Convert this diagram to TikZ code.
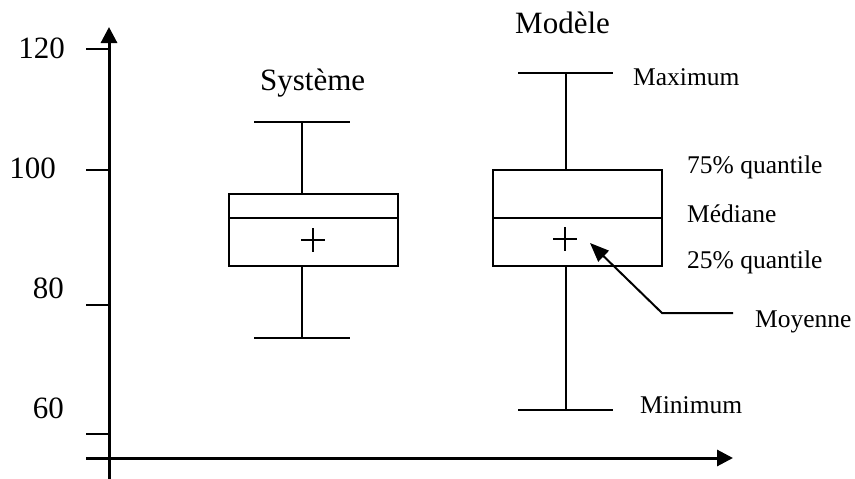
\documentclass[tikz,border=0pt]{standalone}
\usepackage{fontspec}
\setmainfont{Liberation Serif}
\usetikzlibrary{arrows.meta}
\begin{document}
\begin{tikzpicture}[x=1pt,y=-1pt,
  axis/.style={line width=3pt},
  tick/.style={line width=2.4pt},
  boxline/.style={line width=2pt},
  big/.style={font=\fontsize{31}{31}\selectfont, inner sep=0pt, anchor=base west},
  small/.style={font=\fontsize{25.5}{25.5}\selectfont, inner sep=0pt, anchor=base west},
  ylab/.style={font=\fontsize{31}{31}\selectfont, inner sep=0pt, anchor=base east}]
\useasboundingbox (0,0) rectangle (855,479);

% axes
\coordinate (yb) at (109,479);
\coordinate (yt) at (109,27);
\coordinate (xl) at (86,458);
\coordinate (xr) at (733,458);
\draw[axis,-{Triangle[length=16pt,width=16pt]}] (yb) -- (yt);
\draw[axis,-{Triangle[length=16pt,width=16pt]}] (xl) -- (xr);

% ticks and their values
\foreach \yy/\nm in {49/a,170/b,305/c,434/d}{
  \coordinate (t\nm) at (86,\yy);
  \coordinate (u\nm) at (109,\yy);
  \draw[tick] (t\nm) -- (u\nm);
}
\node[ylab] (l120) at (65,58) {120};
\node[ylab] (l100) at (56,178) {100};
\node[ylab] (l80) at (64,298) {80};
\node[ylab] (l60) at (64,418) {60};

% first box plot
\node[big] (sys) at (260,90) {Système};
\draw[boxline] (229,193.5) rectangle (398,266);
\draw[boxline] (229,218) -- (398,218);
\draw[boxline] (302,122) -- (302,193.5);
\draw[boxline] (302,266) -- (302,338);
\draw[boxline] (254,122) -- (350,122);
\draw[boxline] (254,338) -- (350,338);
\draw[line width=1.6pt] (301,240) -- (325,240) (313,228) -- (313,252);

% second box plot
\node[big] (mod) at (515,33) {Modèle};
\draw[boxline] (493,170) rectangle (662,266);
\draw[boxline] (493,218) -- (662,218);
\draw[boxline] (566,73) -- (566,170);
\draw[boxline] (566,266) -- (566,410);
\draw[boxline] (518,73) -- (613,73);
\draw[boxline] (518,410) -- (613,410);
\coordinate (mean) at (565,239);
\draw[line width=1.6pt] (553,239) -- (577,239) (565,227) -- (565,251);

% labels of the second box plot
\node[small] (max) at (633,85) {Maximum};
\node[small] (q75) at (687,173) {75\% quantile};
\node[small] (med) at (687,222) {Médiane};
\node[small] (q25) at (687,268) {25\% quantile};
\node[small] (moy) at (755,327) {Moyenne};
\node[small] (min) at (640,413) {Minimum};

% pointer to the mean
\coordinate (bend) at (662,313);
\coordinate (lineend) at (733,313);
\coordinate (tip) at (590,243);
\draw[boxline,-{Triangle[length=19pt,width=15pt]}] (lineend) -- (bend) -- (tip);
\end{tikzpicture}
\end{document}
